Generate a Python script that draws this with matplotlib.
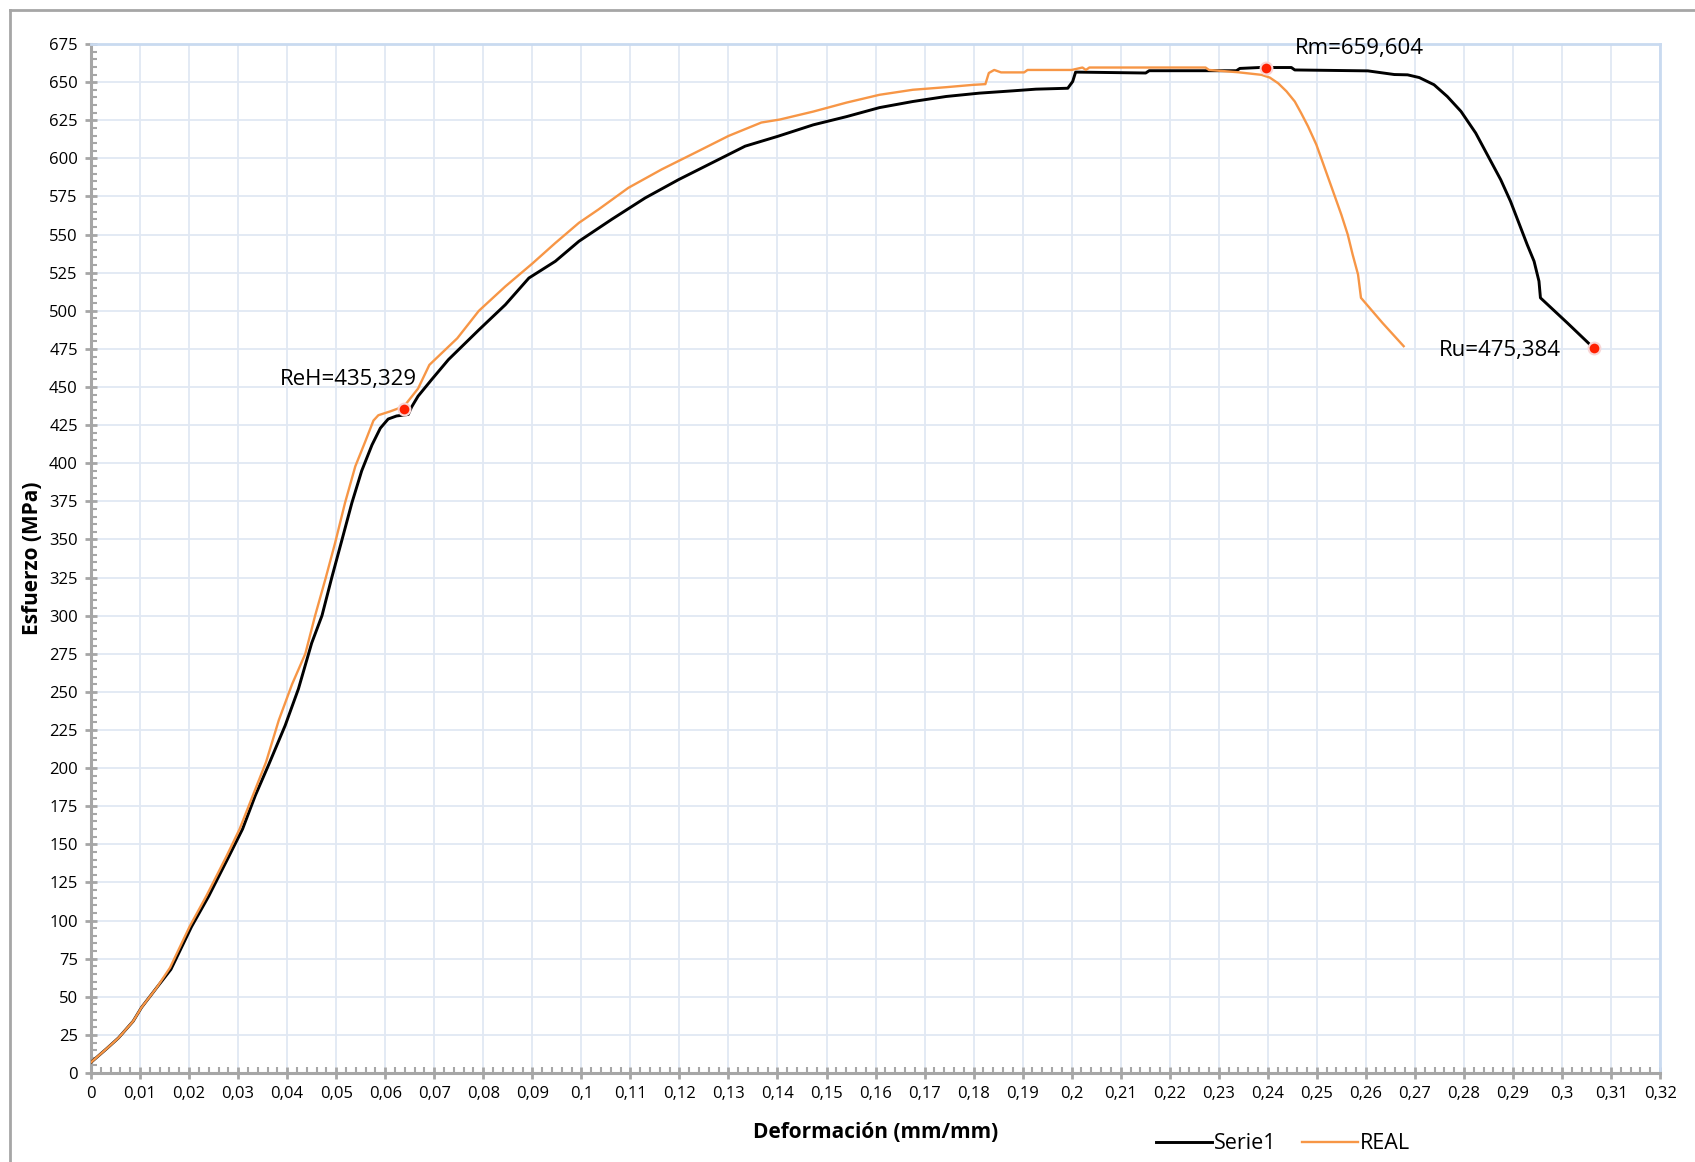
import matplotlib
matplotlib.use("Agg")
import matplotlib.pyplot as plt
import numpy as np
from matplotlib.ticker import MultipleLocator, FuncFormatter
from matplotlib.lines import Line2D

# Serie1 (black curve)
serie1_x = [0, 0.0032, 0.0056, 0.0086, 0.0103, 0.0134, 0.0163, 0.0205, 0.024, 0.0281,
            0.0309, 0.0335, 0.0362, 0.0396, 0.0423, 0.045, 0.0471, 0.0491, 0.0512, 0.0532,
            0.0552, 0.0573, 0.059, 0.0606, 0.0623, 0.0647, 0.0654, 0.0667, 0.0695, 0.0729,
            0.0791, 0.0845, 0.0893, 0.0947, 0.0995, 0.1062, 0.113, 0.1198, 0.1266, 0.1334,
            0.1401, 0.1473, 0.1541, 0.1608, 0.1676, 0.1744, 0.1812, 0.188, 0.1927, 0.1992,
            0.2002, 0.2008, 0.2151, 0.2158, 0.2336, 0.2343, 0.2383, 0.2448, 0.2455, 0.2604,
            0.2658, 0.2685, 0.2709, 0.2739, 0.2766, 0.2794, 0.2824, 0.2855, 0.2875, 0.2895,
            0.2912, 0.2929, 0.2943, 0.2953, 0.2956, 0.3011, 0.3065]
serie1_y = [7, 16, 23, 34, 43, 56, 68, 96, 116, 142,
            160, 182, 202, 228, 252, 282, 300, 325, 350, 374,
            395, 412, 423, 429, 431, 432, 437, 444, 455, 468,
            487.5, 504, 521.5, 532.5, 545.6, 560, 574, 586, 597, 608,
            614.5, 622, 627.4, 633.3, 637.3, 640.6, 642.8, 644.3, 645.4, 646,
            650.4, 656.6, 656, 657.5, 657.5, 659, 659.6, 659.6, 658, 657.4,
            655, 654.8, 653, 648.3, 640.6, 630.8, 616.6, 598, 586, 571.8,
            557.6, 543.4, 532.5, 519.4, 508.5, 492, 475.4]

# REAL (orange curve)
real_x = [0, 0.0032, 0.0056, 0.0086, 0.0103, 0.0134, 0.0161, 0.0201, 0.0235, 0.0276,
          0.0303, 0.033, 0.0357, 0.0383, 0.041, 0.0437, 0.0457, 0.0478, 0.0498, 0.0518,
          0.0539, 0.0559, 0.0576, 0.0586, 0.061, 0.0627, 0.064, 0.0667, 0.069, 0.0747,
          0.0791, 0.0845, 0.09, 0.0947, 0.0995, 0.1035, 0.1096, 0.1164, 0.1232, 0.13,
          0.1367, 0.1405, 0.1473, 0.1541, 0.1608, 0.1676, 0.1744, 0.1798, 0.1824, 0.1831,
          0.1842, 0.1856, 0.1903, 0.191, 0.2, 0.2022, 0.2029, 0.2036, 0.2273, 0.228,
          0.2339, 0.2387, 0.2404, 0.2421, 0.2438, 0.2455, 0.2468, 0.2482, 0.2499, 0.2516,
          0.2533, 0.255, 0.2563, 0.2573, 0.2584, 0.259, 0.2634, 0.2677]
real_y = [7, 16, 23, 34, 43, 56, 69, 96, 116, 142,
          160, 182, 204, 231.5, 255, 275, 300, 324, 348, 374,
          398, 414, 428, 431.5, 434, 436, 438, 449, 464.5, 482,
          500, 516, 531, 544.5, 557.7, 566.5, 580.7, 592.8, 603.7, 614.7,
          623.5, 625.5, 630.7, 636.6, 641.7, 645, 646.7, 648.2, 648.7, 656,
          658, 656.4, 656.4, 658, 658, 659.6, 658, 659.6, 659.6, 658,
          656.5, 654.8, 653, 649.3, 644, 637.3, 629.7, 621, 609, 593.7,
          578.4, 563, 550, 536.9, 523.8, 508.5, 492, 476.8]

# labelled points
pt_x = [0.0638, 0.2397, 0.3065]
pt_y = [435.329, 659.604, 475.384]
pt_labels = ["ReH=435,329", "Rm=659,604", "Ru=475,384"]

plt.rcParams['font.family'] = ['Open Sans', 'DejaVu Sans']

fig = plt.figure(figsize=(16.95, 11.62), dpi=100)
ax = fig.add_axes([0.0537, 0.0766, 0.9794 - 0.0537, 0.9621 - 0.0766])

ax.plot(serie1_x, serie1_y, color='black', lw=2.1, label='Serie1', zorder=3)
ax.plot(real_x, real_y, color='#F79646', lw=1.7, label='REAL', zorder=4)
ax.plot(pt_x, pt_y, 'o', color='#FF2000', ms=8.5, mec='#F8D6D6', mew=1.5, zorder=5)

# data labels
ax.text(0.0664, 455, pt_labels[0], ha='right', va='center', fontsize=16)
ax.text(0.2455, 672, pt_labels[1], ha='left', va='center', fontsize=16)
ax.text(0.2998, 474, pt_labels[2], ha='right', va='center', fontsize=16)

ax.set_xlim(0, 0.32)
ax.set_ylim(0, 675)
ax.xaxis.set_major_locator(MultipleLocator(0.01))
ax.xaxis.set_minor_locator(MultipleLocator(0.002))
ax.yaxis.set_major_locator(MultipleLocator(25))
ax.yaxis.set_minor_locator(MultipleLocator(5))
ax.xaxis.set_major_formatter(FuncFormatter(lambda v, p: f"{round(v, 2):g}".replace('.', ',')))
ax.yaxis.set_major_formatter(FuncFormatter(lambda v, p: f"{v:g}"))

ax.grid(True, which='major', color='#E1E8F3', lw=1.3, zorder=0)
ax.tick_params(which='major', direction='inout', length=9, width=2, color='#A6A6A6',
               labelsize=12, pad=5)
ax.tick_params(which='minor', direction='in', length=4, width=1.5, color='#A6A6A6')
for s in ['left', 'bottom']:
    ax.spines[s].set_color('#A6A6A6')
    ax.spines[s].set_linewidth(2.2)
for s in ['top', 'right']:
    ax.spines[s].set_color('#C9DAF0')
    ax.spines[s].set_linewidth(2)

fig.text(0.5165, 0.0255, 'Deformación (mm/mm)', ha='center', va='center',
         fontsize=15, fontweight='bold')
fig.text(0.019, 0.52, 'Esfuerzo (MPa)', ha='center', va='center', rotation=90,
         fontsize=15, fontweight='bold')

h, l = ax.get_legend_handles_labels()
fig.legend(h, l, loc='center', bbox_to_anchor=(0.757, 0.0155), ncol=2, frameon=False,
           fontsize=15.5, handlelength=2.6, handletextpad=0.1, columnspacing=1.2)

# outer chart frame
fig.add_artist(Line2D([10 / 1695, 10 / 1695], [0, 1 - 10 / 1162], color='#A6A6A6', lw=2,
                      transform=fig.transFigure))
fig.add_artist(Line2D([10 / 1695, 1], [1 - 10 / 1162, 1 - 10 / 1162], color='#A6A6A6', lw=2,
                      transform=fig.transFigure))

fig.savefig('out.png', dpi=100)
